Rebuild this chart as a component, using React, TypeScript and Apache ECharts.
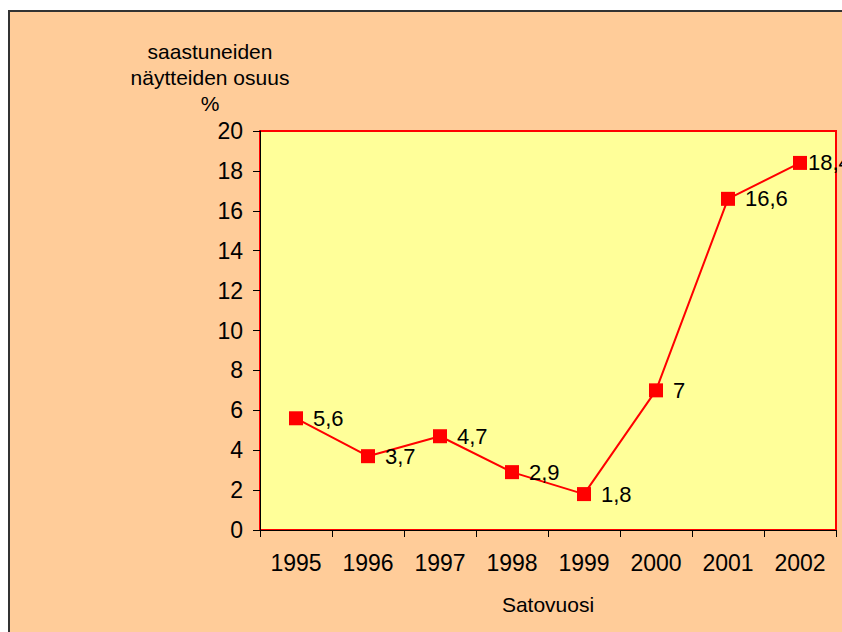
import React, { useEffect, useRef } from "react";
import * as echarts from "echarts";

const years = ["1995", "1996", "1997", "1998", "1999", "2000", "2001", "2002"];
const shares = [5.6, 3.7, 4.7, 2.9, 1.8, 7, 16.6, 18.4];
const yTitleLines = ["saastuneiden", "näytteiden osuus", "%"];
const xTitle = "Satovuosi";

const FONT = "'Liberation Sans', Arial, sans-serif";

export default function App() {
  const ref = useRef<HTMLDivElement>(null);
  useEffect(() => {
    if (!ref.current) return;
    const chart = echarts.init(ref.current, undefined, { renderer: "svg" });
    const seriesData = shares.map((v, i) =>
      i === shares.length - 1 ? { value: v, label: { distance: 1 } } : v
    );
    chart.setOption({
      animation: false,
      backgroundColor: "#ffffff",
      textStyle: { fontFamily: FONT },
      graphic: [
        {
          type: "rect",
          z: -10,
          shape: { x: 9, y: 11, width: 860, height: 640 },
          style: { fill: "#FFCC99", stroke: "#333333", lineWidth: 2 },
        },
        {
          type: "text",
          x: 210,
          y: 77,
          style: {
            text: yTitleLines.join("\n"),
            fontFamily: FONT,
            fontSize: 21,
            lineHeight: 26,
            fill: "#000000",
            align: "center",
            verticalAlign: "middle",
          },
        },
      ],
      grid: {
        left: 260,
        top: 131,
        right: 6,
        bottom: 102,
        show: true,
        backgroundColor: "#FFFF99",
        borderColor: "#FF0000",
        borderWidth: 2,
      },
      xAxis: {
        type: "category",
        data: years,
        boundaryGap: true,
        name: xTitle,
        nameLocation: "middle",
        nameGap: 64,
        nameTextStyle: { fontFamily: FONT, fontSize: 21, color: "#000" },
        axisLine: { show: true, lineStyle: { color: "#000", width: 1 } },
        axisTick: { show: true, interval: 0, length: 7, lineStyle: { color: "#000" } },
        axisLabel: { interval: 0, fontFamily: FONT, fontSize: 23, color: "#000", margin: 21 },
        splitLine: { show: false },
      },
      yAxis: {
        type: "value",
        min: 0,
        max: 20,
        interval: 2,
        axisLine: { show: true, lineStyle: { color: "#000", width: 1 } },
        axisTick: { show: true, length: 7, lineStyle: { color: "#000" } },
        axisLabel: { fontFamily: FONT, fontSize: 23, color: "#000", margin: 17 },
        splitLine: { show: false },
      },
      series: [
        {
          type: "line",
          data: seriesData,
          symbol: "rect",
          symbolSize: 14,
          lineStyle: { color: "#FF0000", width: 2 },
          itemStyle: { color: "#FF0000" },
          label: {
            show: true,
            position: "right",
            distance: 10,
            fontFamily: FONT,
            fontSize: 22,
            color: "#000",
            formatter: (p: any) => String(p.value).replace(".", ","),
          },
          clip: false,
          z: 5,
        },
      ],
    });
    return () => chart.dispose();
  }, []);
  return (
    <div
      ref={ref}
      style={{ position: "fixed", left: 0, top: 0, width: 842, height: 632 }}
    />
  );
}
